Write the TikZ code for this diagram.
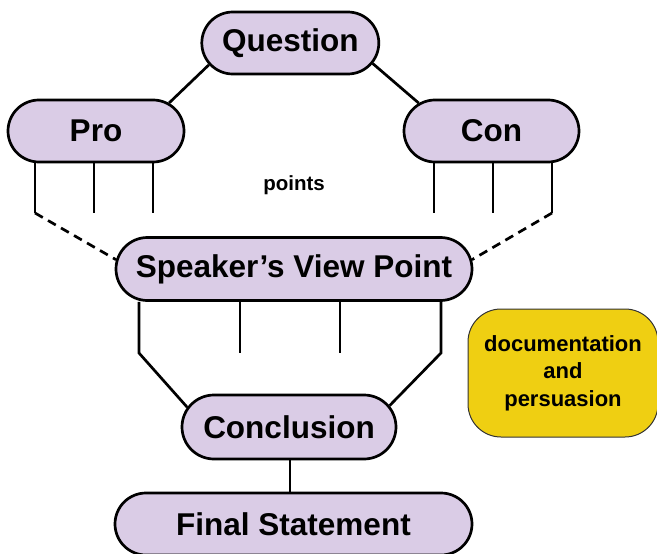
\documentclass[tikz,border=0pt]{standalone}
\usepackage{fontspec}
\setmainfont{Liberation Sans}
\usetikzlibrary{shapes.misc}
\definecolor{lilac}{RGB}{218,204,230}
\definecolor{goldbox}{RGB}{239,207,18}
\begin{document}
\begin{tikzpicture}[x=1pt,y=-1pt,
  pill/.style={rounded rectangle, draw=black, line width=2.7pt, fill=lilac,
    inner sep=0pt, font=\fontsize{31.5}{36}\selectfont\bfseries},
  conn/.style={line width=2.7pt, draw=black},
  dashconn/.style={conn, dash pattern=on 9pt off 6pt}]
\useasboundingbox (0,0) rectangle (657,554);
% nodes
\node[pill, minimum width=177pt, minimum height=62pt] (q) at (290.3,43) {Question};
\node[pill, minimum width=176pt, minimum height=62pt] (p) at (96,131) {Pro};
\node[pill, minimum width=175pt, minimum height=62pt] (c) at (491.5,131) {Con};
\node[pill, minimum width=356pt, minimum height=63pt] (s) at (294,269) {Speaker’s View Point};
\node[pill, minimum width=214pt, minimum height=64pt] (cc) at (289,427) {Conclusion};
\node[pill, minimum width=357pt, minimum height=62pt] (f) at (293.5,524) {Final Statement};
\node[font=\fontsize{20.5}{24}\selectfont\bfseries] (pts) at (294,185) {points};
\node[rectangle, rounded corners=33pt, draw=black!80, line width=1pt, fill=goldbox,
  minimum width=190pt, minimum height=128pt, align=center,
  font=\fontsize{22}{27.5}\selectfont\bfseries] (doc) at (563,373) {documentation\\and\\persuasion};
% coordinates for free ends
\coordinate (pa) at (35,213);
\coordinate (pb) at (94,213);
\coordinate (pc) at (153,213);
\coordinate (ca) at (434,213);
\coordinate (cb) at (493,213);
\coordinate (cc3) at (552,213);
\coordinate (sa) at (139,353);
\coordinate (sb) at (240,353);
\coordinate (sc) at (340,353);
\coordinate (sd) at (441,353);
% connectors
\draw[conn] (q.195) -- (p.21);
\draw[conn] (q.346.5) -- (c.159.5);
\draw[conn] (p.south -| pa) -- (pa);
\draw[conn] (p.south -| pb) -- (pb);
\draw[conn] (p.south -| pc) -- (pc);
\draw[conn] (c.south -| ca) -- (ca);
\draw[conn] (c.south -| cb) -- (cb);
\draw[conn] (c.south -| cc3) -- (cc3);
\draw[dashconn] (pa) -- (s.177);
\draw[dashconn] (cc3) -- (s.3);
\draw[conn, line join=miter] (s.south -| sa) -- (sa) -- (cc.169);
\draw[conn] (s.south -| sb) -- (sb);
\draw[conn] (s.south -| sc) -- (sc);
\draw[conn, line join=miter] (s.south -| sd) -- (sd) -- (cc.12);
\draw[conn] (cc.south -| 290,0) -- (f.north -| 290,0);
\end{tikzpicture}
\end{document}
